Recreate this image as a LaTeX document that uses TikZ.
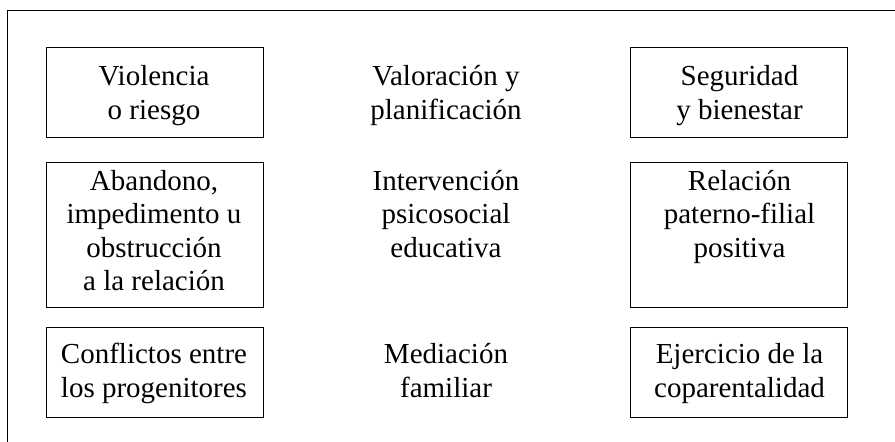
\documentclass[tikz,border=0pt]{standalone}
\usepackage{fontspec}
\setmainfont{Liberation Serif}
\usepackage{tikz}
\usetikzlibrary{positioning}

\begin{document}
\begin{tikzpicture}[x=1pt,y=-1pt,
    box/.style={draw, line width=0.8pt, minimum width=217pt, inner sep=0pt},
    txt/.style={align=center, anchor=north, inner sep=0pt,
      font=\fontsize{29}{33.5}\selectfont}]
          \useasboundingbox (0,0) rectangle (895,442);

          % open frame (top and left side only)
          \draw[line width=0.8pt] (895,10) -- (7,10) -- (7,442);

          % boxes
          \draw (154.5,92) node[box, minimum height=90pt] (b1) {};

          \draw (154.5,234.5) node[box, minimum height=145pt] (b2) {};

          \draw (154.5,372) node[box, minimum height=90pt] (b3) {};

          \draw (739,92) node[box, minimum height=90pt] (b4) {};

          \draw (739,234.5) node[box, minimum height=145pt] (b5) {};

          \draw (739,372) node[box, minimum height=90pt] (b6) {};

          % texts
          \draw (154,65.2) node[txt] (viol) {Violencia\\o riesgo};

          \draw (154,169.7) node[txt] (aban)
          {Abandono,\\impedimento u\\obstrucción\\a la relación};

          \draw (154,343.2) node[txt] (conf) {Conflictos entre\\los progenitores};

          \draw (446,65.2) node[txt] (valo) {Valoración y\\planificación};

          \draw (446,169.7) node[txt] (inte)
          {Intervención\\psicosocial\\educativa};

          \draw (446,343.2) node[txt] (medi) {Mediación\\familiar};

          \draw (739.5,65.2) node[txt] (segu) {Seguridad\\y bienestar};

          \draw (739.5,169.7) node[txt] (rela)
          {Relación\\paterno-filial\\positiva};

          \draw (739.5,343.2) node[txt] (ejer) {Ejercicio de la\\coparentalidad};
        \end{tikzpicture}
\end{document}
